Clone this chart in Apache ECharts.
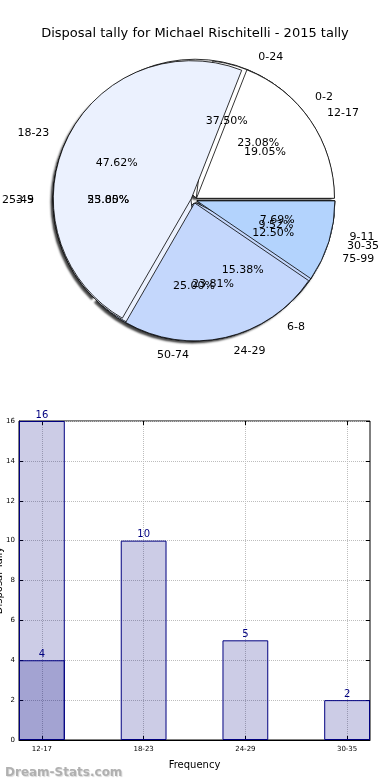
<!DOCTYPE html>
<html>
<head>
<meta charset="utf-8">
<script src="https://cdn.jsdelivr.net/npm/echarts@6/dist/echarts.min.js"></script>
<style>
html,body{margin:0;padding:0;background:#fff;}
#c{width:390px;height:780px;}
</style>
</head>
<body>
<div id="c"></div>
<script>
// ---- data ----
const titleText = 'Disposal tally for Michael Rischitelli - 2015 tally';
const groupA = ['12-17', '18-23', '24-29', '30-35'];
const valuesA = [4, 10, 5, 2];
const groupB = ['0-2', '3-5', '6-8', '9-11'];
const valuesB = [3, 7, 2, 1];
const groupC = ['0-24', '25-49', '50-74', '75-99'];
const valuesC = [3, 2, 2, 1];
const barCategories = ['12-17', '18-23', '24-29', '30-35'];
const barValues = [4, 10, 5, 2];
const barExtraValues = [16, null, null, null];
const yTicks = [0, 2, 4, 6, 8, 10, 12, 14, 16];
const xAxisName = 'Frequency';
const yAxisName = 'Disposal Tally';
const watermark = 'Dream-Stats.com';

const sliceColors = ['#ffffff', '#ebf1fe', '#c4d7fc', '#b3d3fd'];
const FONT = 'DejaVu Sans';
const CX = 194, CY = 200, R = 138;

// plot frame (px) and bar geometry (units of category spacing)
const PLOT = { left: 19, right: 20, top: 421, bottom: 40, width: 351 };
const BAR_FRAC = 0.45;
const SPAN = barCategories.length - 1 + BAR_FRAC;
const UNIT = PLOT.width / SPAN;
const HALF = BAR_FRAC / 2;
const catPositions = barCategories.map((c, i) => i);

function pieData(names, vals) {
  return names.map((n, i) => ({
    name: n, value: vals[i], selected: true,
    itemStyle: { color: sliceColors[i] }
  }));
}
function visiblePie(names, vals, z, shadow) {
  const st = { borderColor: '#000', borderWidth: 0.8 };
  if (shadow) {
    st.shadowColor = 'rgba(0,0,0,0.75)';
    st.shadowBlur = 2;
    st.shadowOffsetX = -2;
    st.shadowOffsetY = 2;
  }
  return {
    type: 'pie', center: [CX, CY], radius: R, startAngle: 0, clockwise: false,
    selectedMode: 'multiple', selectedOffset: 3, avoidLabelOverlap: false,
    labelLayout: { hideOverlap: false },
    z: z, silent: true, animation: false,
    itemStyle: st,
    label: { show: true, position: 'outside', color: '#000', fontFamily: FONT, fontSize: 11 },
    labelLine: { show: false, length: 14, length2: 0 },
    emphasis: { disabled: true },
    data: pieData(names, vals)
  };
}
function pctPie(names, vals, z) {
  return {
    type: 'pie', center: [CX, CY], radius: [R * 0.2, R], startAngle: 0, clockwise: false,
    avoidLabelOverlap: false, z: z, silent: true, animation: false,
    labelLayout: { hideOverlap: false },
    itemStyle: { color: 'rgba(0,0,0,0)', borderWidth: 0 },
    label: {
      show: true, position: 'inside', color: '#000', fontFamily: FONT, fontSize: 11,
      formatter: p => p.percent.toFixed(2) + '%'
    },
    labelLine: { show: false },
    emphasis: { disabled: true },
    data: names.map((n, i) => ({ name: n, value: vals[i] }))
  };
}
function barSeries(vals, z) {
  return {
    type: 'bar', xAxisIndex: 1, yAxisIndex: 1, barWidth: BAR_FRAC * UNIT, barGap: '-100%', z: z, silent: true,
    itemStyle: { color: 'rgba(0,0,128,0.2)', borderColor: '#000080', borderWidth: 1 },
    label: { show: true, position: 'top', distance: 1, color: '#000080', fontFamily: FONT, fontSize: 10 },
    labelLayout: { hideOverlap: false },
    emphasis: { disabled: true },
    data: vals.map(v => v == null ? '-' : v)
  };
}

const bandLeft = PLOT.left + HALF * UNIT - UNIT / 2;
const bandRight = PLOT.right + HALF * UNIT - UNIT / 2;
const gridLine = { show: true, lineStyle: { color: '#bdbdbd', type: 'dotted', width: 1 } };
const tickStyle = { color: '#000' };

const chart = echarts.init(document.getElementById('c'), null, { renderer: 'canvas' });
const option = {
  backgroundColor: '#fff',
  animation: false,
  title: [
    { text: titleText, left: 'center', top: 22,
      textStyle: { fontFamily: FONT, fontSize: 13, fontWeight: 'normal', color: '#000' } },
    { text: watermark, left: 0, top: 762,
      textStyle: { fontFamily: FONT, fontSize: 12, fontWeight: 'bold', color: '#b0b0b0',
        textShadowColor: 'rgba(0,0,0,0.15)', textShadowOffsetX: 1, textShadowOffsetY: 1, textShadowBlur: 1 } }
  ],
  grid: [
    { left: PLOT.left, right: PLOT.right, top: PLOT.top, bottom: PLOT.bottom, show: true,
      borderColor: '#000', borderWidth: 1, backgroundColor: 'transparent', outerBoundsMode: 'none' },
    { left: bandLeft, right: bandRight, top: PLOT.top, bottom: PLOT.bottom, outerBoundsMode: 'none' }
  ],
  xAxis: [
    {
      gridIndex: 0, type: 'value', min: -HALF, max: barCategories.length - 1 + HALF,
      name: xAxisName, nameLocation: 'middle', nameGap: 20,
      nameTextStyle: { fontFamily: FONT, fontSize: 10, color: '#000' },
      axisLine: { show: true, onZero: false, lineStyle: { color: '#000' } },
      axisTick: { show: true, inside: true, length: 4, lineStyle: tickStyle, customValues: catPositions },
      axisLabel: { show: true, fontFamily: FONT, fontSize: 7, color: '#000', margin: 6,
        customValues: catPositions, formatter: v => barCategories[Math.round(v)] },
      splitLine: gridLine
    },
    { gridIndex: 1, type: 'category', data: barCategories, show: false, boundaryGap: true },
    {
      gridIndex: 0, type: 'value', position: 'top', min: -HALF, max: barCategories.length - 1 + HALF,
      axisLine: { show: false, onZero: false },
      axisTick: { show: true, inside: true, length: 4, lineStyle: tickStyle, customValues: catPositions },
      axisLabel: { show: false }, splitLine: { show: false }
    }
  ],
  yAxis: [
    {
      gridIndex: 0, type: 'value', min: 0, max: 16, interval: 2,
      name: yAxisName, nameLocation: 'middle', nameGap: 15, nameRotate: 90, nameMoveOverlap: false,
      nameTextStyle: { fontFamily: FONT, fontSize: 10, color: '#000' },
      axisLine: { show: true, onZero: false, lineStyle: { color: '#000' } },
      axisTick: { show: true, inside: true, length: 4, lineStyle: tickStyle },
      axisLabel: { fontFamily: FONT, fontSize: 7, color: '#000', margin: 4, formatter: v => yTicks.includes(v) ? String(v) : '' },
      splitLine: gridLine
    },
    { gridIndex: 1, type: 'value', min: 0, max: 16, show: false },
    {
      gridIndex: 0, type: 'value', position: 'right', min: 0, max: 16, interval: 2,
      axisLine: { show: false, onZero: false },
      axisTick: { show: true, inside: true, length: 4, lineStyle: tickStyle },
      axisLabel: { show: false }, splitLine: { show: false }
    }
  ],
  series: [
    visiblePie(groupC, valuesC, 2, true),
    visiblePie(groupB, valuesB, 3, false),
    visiblePie(groupA, valuesA, 4, false),
    pctPie(groupC, valuesC, 10),
    pctPie(groupB, valuesB, 11),
    pctPie(groupA, valuesA, 12),
    barSeries(barExtraValues, 3),
    barSeries(barValues, 4)
  ]
};
chart.setOption(option);
</script>
</body>
</html>
